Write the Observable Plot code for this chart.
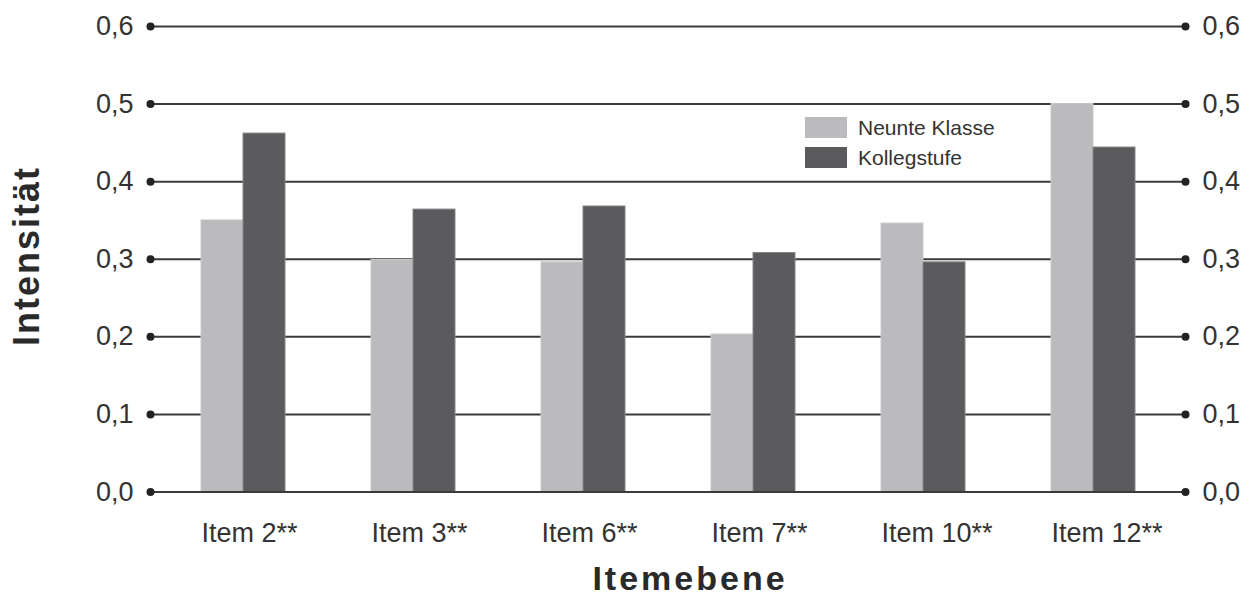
<!DOCTYPE html>
<html>
<head>
<meta charset="utf-8">
<script src="https://cdn.jsdelivr.net/npm/d3@7"></script>
<script src="https://cdn.jsdelivr.net/npm/@observablehq/plot@0.6"></script>
<style>
  body { margin: 0; background: #fff; }
  #wrap { position: relative; width: 1252px; height: 599px; overflow: hidden; }
  #legend { position: absolute; left: 805px; top: 117px; font-family: "Liberation Sans", Arial, sans-serif; font-size: 21px; color: #333; }
  .row { display: flex; align-items: center; height: 21px; margin-bottom: 9px; }
  .sw { width: 42px; height: 21px; margin-right: 11px; box-sizing: border-box; }
  .axlabel { position: absolute; font-family: "Liberation Sans", Arial, sans-serif; font-weight: bold; color: #2a2a2a; white-space: nowrap; }
  #xlab { left: 690px; top: 559px; font-size: 34px; letter-spacing: 3px; line-height: 38px; transform: translateX(-50%); }
  #ylab { left: 27px; top: 256px; font-size: 36px; letter-spacing: 2px; line-height: 36px; transform: translate(-50%, -50%) rotate(-90deg); }
</style>
</head>
<body>
<div id="wrap"><div id="legend"></div><div id="xlab" class="axlabel"></div><div id="ylab" class="axlabel"></div></div>
<script>
const items = ["Item 2**", "Item 3**", "Item 6**", "Item 7**", "Item 10**", "Item 12**"];
const neunteKlasse = [0.350, 0.299, 0.296, 0.203, 0.346, 0.500];
const kollegstufe = [0.462, 0.364, 0.368, 0.308, 0.296, 0.444];
const seriesNames = ["Neunte Klasse", "Kollegstufe"];
const seriesColors = ["#bbbbbe", "#5b5b5e"];
const yTicks = [0, 0.1, 0.2, 0.3, 0.4, 0.5, 0.6];
const xLabel = "Itemebene";
const yLabel = "Intensität";

const rowsA = items.map((item, i) => ({item, value: neunteKlasse[i]}));
const rowsB = items.map((item, i) => ({item, value: kollegstufe[i]}));
const fmt = d => d.toFixed(1).replace(".", ",");

const chart = Plot.plot({
  width: 1252,
  height: 599,
  marginLeft: 150,
  marginRight: 67,
  marginTop: 26,
  marginBottom: 107.5,
  style: {fontFamily: "'Liberation Sans', Arial, sans-serif", fontSize: "27px", color: "#333", background: "#fff"},
  x: {domain: items, paddingInner: 0.506, paddingOuter: 0.253, insetLeft: 7, insetRight: 6, label: null},
  y: {domain: [0, 0.6], label: null},
  marks: [
    Plot.ruleY(yTicks.filter(d => d > 0), {stroke: "#3a3a3a", strokeWidth: 2}),
    Plot.barY(rowsA, {x: "item", y: "value", fill: seriesColors[0], stroke: "#c9c9cb", strokeWidth: 1, insetRight: 42}),
    Plot.barY(rowsB, {x: "item", y: "value", fill: seriesColors[1], stroke: "#858587", strokeWidth: 1, insetLeft: 42}),
    Plot.ruleY([0], {stroke: "#3a3a3a", strokeWidth: 2}),
    Plot.dot(yTicks, {y: d => d, frameAnchor: "left", r: 4, fill: "#222", stroke: null}),
    Plot.dot(yTicks, {y: d => d, frameAnchor: "right", r: 4, fill: "#222", stroke: null}),
    Plot.axisY(yTicks, {anchor: "left", tickSize: 0, tickPadding: 17, tickFormat: fmt, fontSize: 27, fill: "#333", label: null}),
    Plot.axisY(yTicks, {anchor: "right", tickSize: 0, tickPadding: 17, tickFormat: fmt, fontSize: 27, fill: "#333", label: null}),
    Plot.axisX({tickSize: 0, tickPadding: 31, fontSize: 27, fill: "#333", textAnchor: "start", dx: -42, label: null})
  ]
});
const wrap = document.getElementById("wrap");
wrap.insertBefore(chart, wrap.firstChild);
document.getElementById("xlab").textContent = xLabel;
document.getElementById("ylab").textContent = yLabel;

const legend = document.getElementById("legend");
seriesNames.forEach((name, i) => {
  const row = document.createElement("div");
  row.className = "row";
  const sw = document.createElement("div");
  sw.className = "sw";
  sw.style.background = seriesColors[i];
  const t = document.createElement("span");
  t.textContent = name;
  row.appendChild(sw);
  row.appendChild(t);
  legend.appendChild(row);
});
</script>
</body>
</html>
